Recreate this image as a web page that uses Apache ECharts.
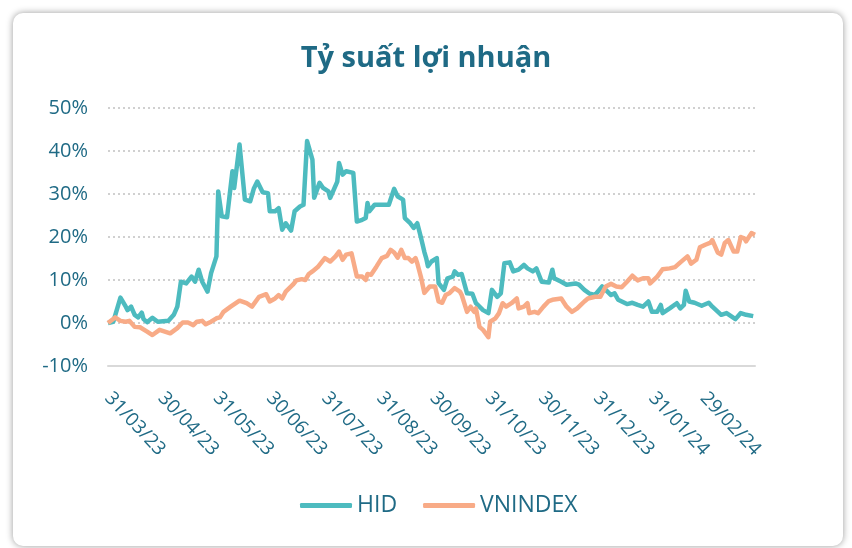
<!DOCTYPE html>
<html>
<head>
<meta charset="utf-8">
<script src="https://cdn.jsdelivr.net/npm/echarts@6/dist/echarts.min.js"></script>
<style>
    html, body { margin: 0; padding: 0; background: #ffffff; }
    #card {
        position: absolute; left: 13px; top: 13px; width: 830px; height: 533px;
        background: #fff; border-radius: 10px;
        box-shadow: 0 0 7px rgba(0, 0, 0, 0.4);
    }
    #chart { position: absolute; left: 0; top: 0; width: 852px; height: 548px; }
</style>
</head>
<body>
<div id="card"></div>
<div id="chart"></div>
<script>
// tick labels (month ends)
var monthEnds = ['2023-03-31', '2023-04-30', '2023-05-31', '2023-06-30', '2023-07-31', '2023-08-31',
    '2023-09-30', '2023-10-31', '2023-11-30', '2023-12-31', '2024-01-31', '2024-02-29'];

// [days since 31/03/23, return %]
var hid = [[0,0],[3,0.3],[7,5.9],[10,3.8],[11,3.0],[13,3.8],[15,1.9],[17,1.3],[19,2.4],[20,0.9],[22,0.2],
    [25,1.2],[28,0.3],[34,0.5],[37,1.9],[39,3.8],[41,9.6],[44,9.2],[47,10.8],[49,9.6],[51,12.4],[53,9.6],
    [56,7.3],[58,11.6],[61,15.5],[62,30.6],[64,24.8],[67,24.6],[70,35.3],[71,31.4],[72,31.8],[74,41.5],
    [77,28.7],[80,28.3],[82,31.2],[84,32.9],[87,30.4],[90,30.2],[91,26.0],[94,26.0],[96,26.7],[98,21.7],
    [100,23.2],[103,21.5],[105,26.0],[108,27.1],[110,27.5],[112,42.3],[115,38.0],[116,29.1],[119,32.6],
    [121,31.4],[124,30.6],[125,29.1],[129,32.9],[130,37.2],[132,34.5],[134,35.3],[138,34.9],[140,23.6],
    [143,24.0],[145,24.4],[146,27.9],[147,26.0],[150,27.5],[158,27.5],[161,31.2],[163,29.4],[166,28.7],
    [167,24.4],[170,23.2],[172,22.1],[174,23.2],[176,20.0],[178,16.5],[179,15.1],[180,13.2],[182,14.3],
    [185,15.1],[186,9.3],[189,7.7],[191,10.4],[194,10.8],[195,12.0],[197,11.2],[199,11.4],[202,6.9],
    [205,6.8],[207,4.6],[211,3.0],[214,2.3],[216,7.7],[219,6.1],[221,6.9],[223,13.9],[226,14.1],[228,12.0],
    [231,12.4],[234,13.5],[236,12.7],[239,12.0],[241,12.7],[244,9.6],[248,9.4],[250,12.4],[251,10.4],
    [255,9.6],[258,8.9],[263,9.2],[265,8.9],[268,7.7],[271,6.8],[274,6.5],[278,8.5],[281,7.3],[283,6.5],
    [285,6.9],[287,5.4],[292,4.4],[295,4.7],[298,4.2],[301,3.8],[304,5.0],[306,2.6],[309,2.6],[311,4.2],
    [312,2.3],[316,3.4],[320,4.6],[322,3.4],[324,4.2],[325,7.5],[327,5.0],[330,4.7],[334,4.0],[338,4.7],
    [340,3.8],[345,1.9],[348,2.3],[353,0.9],[356,2.3],[359,1.9],[363,1.6]];

var vnindex = [[0,0],[4,1.3],[7,0.5],[10,0.3],[12,0.5],[15,-0.9],[18,-1.0],[22,-2.0],[25,-2.8],[29,-1.6],
    [32,-2.0],[35,-2.4],[39,-1.2],[42,0.1],[45,0.1],[48,-0.5],[50,0.3],[53,0.5],[55,-0.3],[58,0.3],[61,1.1],
    [63,1.3],[65,2.6],[69,3.8],[70,3.4],[74,5.2],[78,4.6],[81,3.8],[85,6.1],[89,6.7],[91,5.0],[94,5.7],
    [96,6.5],[98,5.7],[100,7.3],[104,8.9],[106,9.9],[109,10.2],[111,10.0],[113,11.4],[115,12.0],[118,13.0],
    [122,15.1],[125,14.3],[128,15.5],[130,16.6],[132,14.7],[134,15.9],[137,16.2],[138,16.6],[140,10.8],
    [143,10.8],[145,10.0],[146,11.4],[148,11.2],[151,13.1],[154,15.1],[157,15.6],[159,17.0],[161,16.4],
    [163,15.2],[165,17.0],[167,15.1],[169,15.1],[171,14.3],[173,15.1],[174,13.9],[176,10.8],[178,7.0],
    [181,8.5],[184,8.5],[186,5.0],[188,4.7],[190,6.5],[192,6.9],[195,8.1],[198,7.3],[199,6.5],[202,2.6],
    [204,3.8],[206,2.6],[207,3.4],[209,-0.9],[211,-1.6],[214,-3.3],[215,0.3],[218,1.1],[220,2.3],[222,4.6],
    [224,3.8],[227,4.6],[230,5.7],[231,3.4],[234,3.8],[236,4.6],[237,2.3],[240,2.6],[242,2.3],[245,3.8],
    [248,5.1],[250,5.4],[255,5.7],[258,3.8],[261,2.6],[264,3.4],[266,4.2],[268,5.0],[270,5.7],[274,6.1],
    [277,6.1],[280,8.5],[283,9.1],[286,8.5],[289,8.3],[292,9.6],[295,11.0],[296,10.8],[298,9.9],[301,10.4],
    [304,10.4],[305,9.2],[309,10.8],[312,12.5],[316,12.7],[319,13.0],[322,14.1],[326,15.5],[327,14.7],
    [328,13.8],[331,14.7],[333,17.6],[336,18.2],[339,18.7],[340,19.3],[343,16.4],[345,15.9],[347,18.6],
    [349,19.3],[352,16.6],[354,16.6],[356,20.0],[358,19.7],[359,19.0],[362,20.9],[364,20.5]];

var textColor = '#1f6a85';
var start = new Date(2023, 2, 31).getTime();
var end = new Date(2024, 2, 29).getTime();

function toTime(d) {
    var p = d.split('-');
    return new Date(+p[0], p[1] - 1, +p[2]).getTime();
}
function toPoints(arr) {
    return arr.map(function (item) {
        return [start + item[0] * 86400000, item[1]];
    });
}
function pad(n) { return n < 10 ? '0' + n : '' + n; }

var myChart = echarts.init(document.getElementById('chart'));
var option = {
    animation: false,
    title: {
        text: 'Tỷ suất lợi nhuận',
        left: 'center',
        top: 39,
        textStyle: { color: textColor, fontFamily: 'Open Sans', fontWeight: 'bold', fontSize: 29 }
    },
    legend: {
        bottom: 26,
        left: 295,
        icon: 'roundRect',
        itemWidth: 52,
        itemHeight: 5,
        itemGap: 26,
        textStyle: { color: textColor, fontFamily: 'Open Sans', fontSize: 23 },
        data: ['HID', 'VNINDEX']
    },
    grid: { left: 108, right: 97, top: 108, bottom: 182 },
    xAxis: [{
        type: 'value',
        min: start,
        max: end,
        axisLine: { show: false },
        axisTick: { show: false },
        splitLine: { show: false },
        axisLabel: {
            customValues: monthEnds.map(toTime),
            rotate: -47,
            margin: 29,
            color: textColor,
            fontFamily: 'Open Sans',
            fontSize: 19,
            formatter: function (val) {
                var d = new Date(val);
                return pad(d.getDate()) + '/' + pad(d.getMonth() + 1) + '/' + pad(d.getFullYear() % 100);
            }
        }
    }, {
        type: 'value',
        min: start,
        max: end,
        position: 'bottom',
        axisLine: { show: true, onZero: true, lineStyle: { color: '#d9d9d9', width: 2 } },
        axisTick: { show: false },
        axisLabel: { show: false },
        splitLine: { show: false }
    }],
    yAxis: {
        type: 'value',
        min: -10,
        max: 50,
        interval: 10,
        axisLine: { show: false },
        axisTick: { show: false },
        axisLabel: {
            formatter: '{value}%',
            margin: 20,
            color: textColor,
            fontFamily: 'Open Sans',
            fontSize: 20
        },
        splitLine: { lineStyle: { color: '#d0d0d0', type: [2, 3], width: 2 } }
    },
    series: [{
        name: 'HID',
        type: 'line',
        showSymbol: false,
        color: '#4dbbbf',
        lineStyle: { width: 4.5, join: 'round' },
        data: toPoints(hid)
    }, {
        name: 'VNINDEX',
        type: 'line',
        showSymbol: false,
        color: '#f8ab87',
        lineStyle: { width: 4.5, join: 'round' },
        data: toPoints(vnindex)
    }]
};
myChart.setOption(option);
</script>
</body>
</html>
